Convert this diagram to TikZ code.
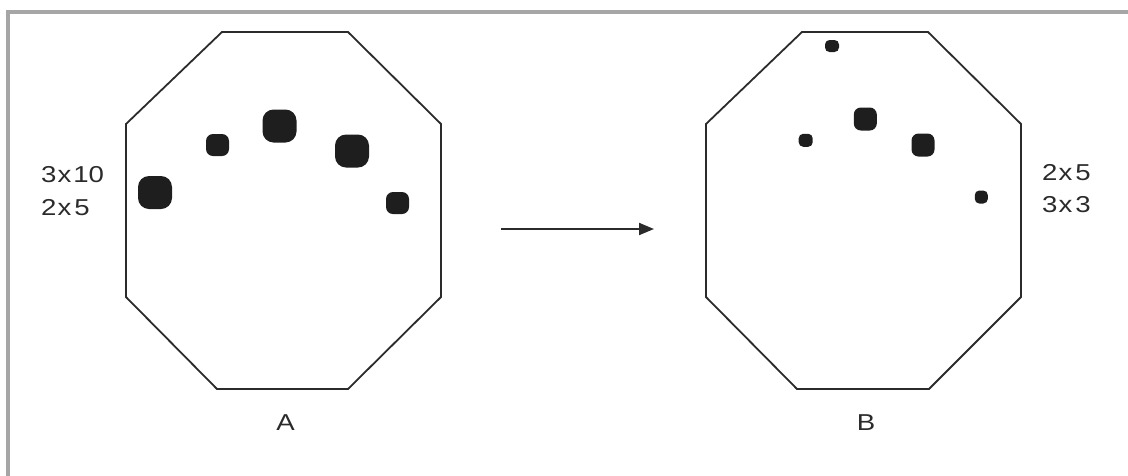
\documentclass[tikz,border=0pt]{standalone}
\usepackage{fontspec}
\setmainfont{Liberation Sans}
\newfontfamily\lblfont[FakeStretch=1.2]{Liberation Sans}
\usetikzlibrary{arrows.meta}
\definecolor{framegray}{HTML}{A6A6A6}
\definecolor{ink}{HTML}{2B2B2B}
\definecolor{blob}{HTML}{1E1E1E}
\tikzset{
  octa/.style={draw=ink, line width=1.8pt, line join=miter},
  bigblob/.style={fill=blob, rounded corners=11pt},
  midblob/.style={fill=blob, rounded corners=7pt},
  tinyblob/.style={fill=blob, rounded corners=4.5pt},
  lbl/.style={font=\lblfont\fontsize{23}{27}\selectfont, text=ink, inner sep=0pt},
  arr/.style={draw=ink, line width=2pt, -{Triangle[length=15pt,width=12pt]}}
}
\newcommand{\myblob}[5]{\fill[#1] (#2-#4/2,#3-#5/2) rectangle (#2+#4/2,#3+#5/2);}
\begin{document}
\begin{tikzpicture}[x=1pt,y=-1pt]
\useasboundingbox (0,0) rectangle (1128,475);
% partial frame
\draw[framegray, line width=3.5pt] (8,478) -- (8,12) -- (1130,12);
% octagon A
\draw[octa] (222,32) -- (348,32) -- (441,124) -- (441,297) -- (348,389) -- (217,389) -- (126,297) -- (126,124) -- cycle;
% octagon B
\draw[octa] (802,32) -- (928,32) -- (1021,124) -- (1021,297) -- (929,389) -- (797,389) -- (706,297) -- (706,124) -- cycle;
% blobs A
\myblob{bigblob}{155}{192.5}{34}{33}
\myblob{midblob}{217.5}{145}{23}{22}
\myblob{bigblob}{279.5}{126}{34}{33}
\myblob{bigblob}{352}{151}{34}{33}
\myblob{midblob}{397.5}{203}{23}{22}
% blobs B
\myblob{tinyblob}{832}{46}{14}{12}
\myblob{midblob}{865.3}{119}{23}{23}
\myblob{tinyblob}{805.7}{140.3}{14}{13}
\myblob{midblob}{923}{145}{23}{23}
\myblob{tinyblob}{981.3}{197}{13}{13}
% texts
\node[lbl, anchor=base west] (la1) at (41,182.7) {3\kern1pt x\kern2pt 10};
\node[lbl, anchor=base west] (la2) at (41,215) {2\kern1pt x\kern3pt 5};
\node[lbl, anchor=base west] (lb1) at (1042,180) {2\kern1pt x\kern3pt 5};
\node[lbl, anchor=base west] (lb2) at (1042,212.5) {3\kern1pt x\kern3pt 3};
\node[lbl, anchor=base] (capA) at (285.5,430) {A};
\node[lbl, anchor=base] (capB) at (866,430) {B};
% arrow
\coordinate (as) at (501,229);
\coordinate (ae) at (654,229);
\draw[arr] (as) -- (ae);
\end{tikzpicture}
\end{document}
